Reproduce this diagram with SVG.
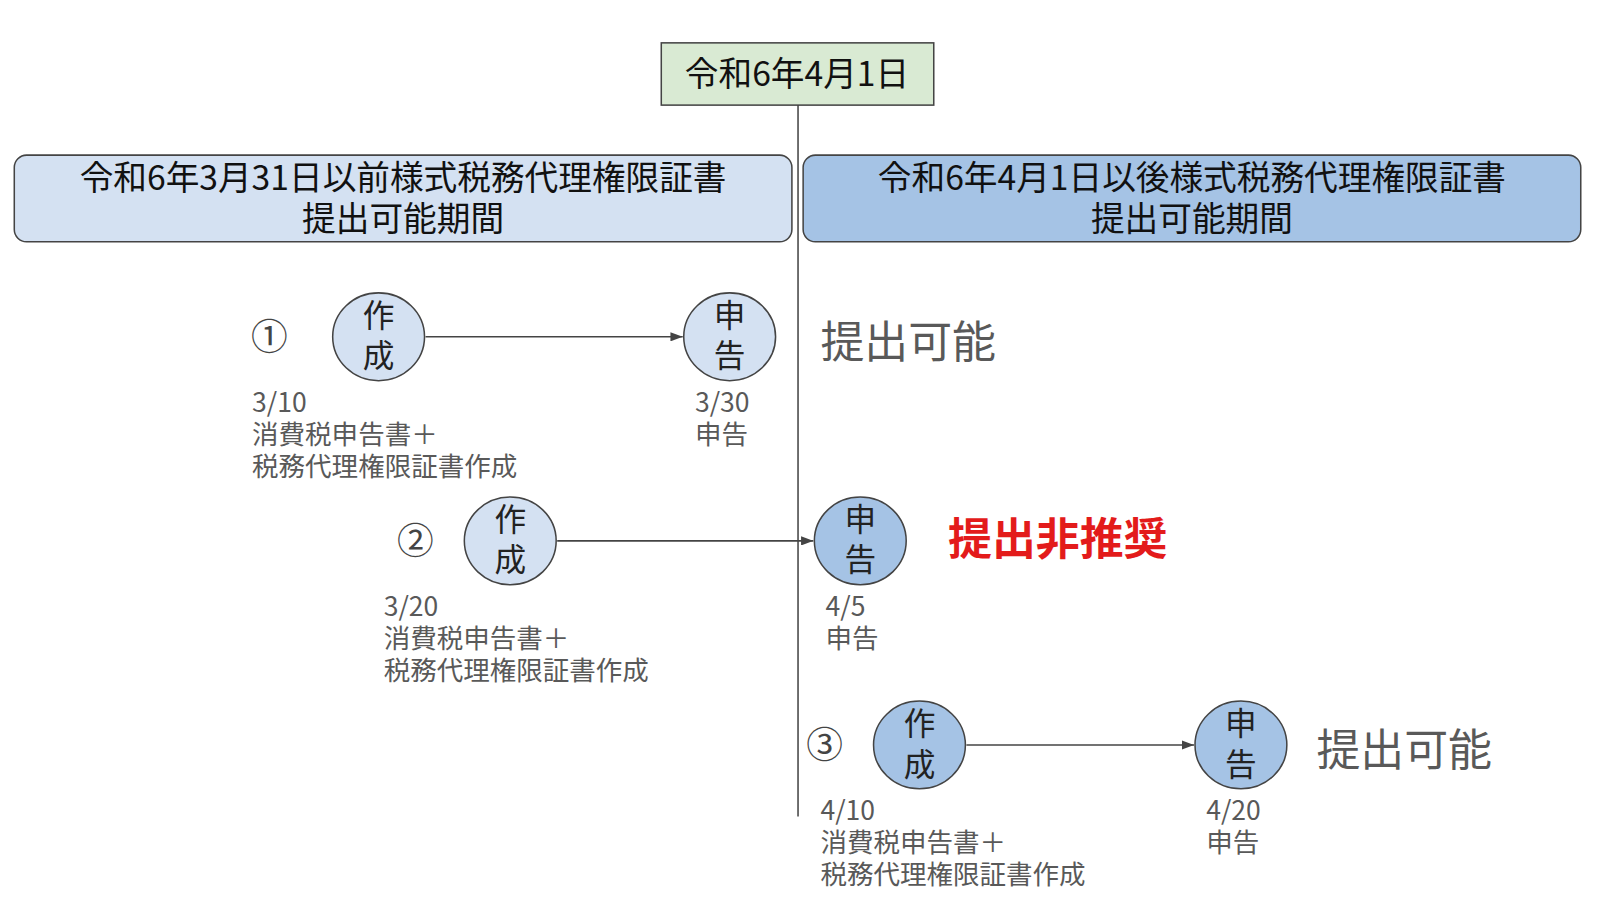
<svg xmlns="http://www.w3.org/2000/svg" width="1600" height="918" viewBox="0 0 1600 918">
<style>
text{font-family:"Noto Sans CJK JP","Noto Sans",sans-serif}
.c1{fill:#d4e1f2;stroke:#444;stroke-width:1.5}
.c2{fill:#a5c3e5;stroke:#444;stroke-width:1.5}
.ct{font-size:31px;fill:#222;text-anchor:middle}
.lb{font-size:26px;fill:#595959}
.big{font-size:43px;fill:#595959}
.num{font-size:36px;fill:#444;text-anchor:middle}
.hd{font-size:33px;fill:#111;text-anchor:middle}
</style>
<defs><marker id="ar" markerWidth="12" markerHeight="9" refX="12" refY="4.5" orient="auto" markerUnits="userSpaceOnUse"><path d="M0,0L12,4.5L0,9z" fill="#444"/></marker></defs>
<rect width="1600" height="918" fill="#fff"/>
<g transform="scale(1.0205)">
<g id="date"><rect x="648" y="42" width="267" height="61" fill="#d9ead3" stroke="#444" stroke-width="1.5"/><text x="781" y="84" class="hd">令和6年4月1日</text></g>
<g id="left-header"><rect x="14" y="152" width="762" height="85" rx="12" fill="#d4e1f2" stroke="#444" stroke-width="1.5"/><text x="395" y="186" class="hd">令和6年3月31日以前様式税務代理権限証書</text><text x="395" y="226" class="hd">提出可能期間</text></g>
<g id="right-header"><rect x="787" y="152" width="762" height="85" rx="12" fill="#a5c3e5" stroke="#444" stroke-width="1.5"/><text x="1168" y="186" class="hd">令和6年4月1日以後様式税務代理権限証書</text><text x="1168" y="226" class="hd">提出可能期間</text></g>
<g id="connectors" stroke="#444" stroke-width="1.5" fill="none">
<line x1="782" y1="103" x2="782" y2="800"/>
<line x1="417" y1="330" x2="669" y2="330" marker-end="url(#ar)"/>
<line x1="546" y1="530" x2="797" y2="530" marker-end="url(#ar)"/>
<line x1="947" y1="730" x2="1170" y2="730" marker-end="url(#ar)"/>
</g>
<g id="n1a"><ellipse cx="371" cy="330" rx="45" ry="43" class="c1"/><text x="371" y="320" class="ct">作</text><text x="371" y="360" class="ct">成</text></g>
<g id="n1b"><ellipse cx="715" cy="330" rx="45" ry="43" class="c1"/><text x="715" y="320" class="ct">申</text><text x="715" y="360" class="ct">告</text></g>
<g id="n2a"><ellipse cx="500" cy="530" rx="45" ry="43" class="c1"/><text x="500" y="520" class="ct">作</text><text x="500" y="560" class="ct">成</text></g>
<g id="n2b"><ellipse cx="843" cy="530" rx="45" ry="43" class="c2"/><text x="843" y="520" class="ct">申</text><text x="843" y="560" class="ct">告</text></g>
<g id="n3a"><ellipse cx="901" cy="730" rx="45" ry="43" class="c2"/><text x="901" y="720" class="ct">作</text><text x="901" y="760" class="ct">成</text></g>
<g id="n3b"><ellipse cx="1216" cy="730" rx="45" ry="43" class="c2"/><text x="1216" y="720" class="ct">申</text><text x="1216" y="760" class="ct">告</text></g>
<g id="labels">
<text x="264" y="343" class="num">①</text><text x="407" y="543" class="num">②</text><text x="808" y="743" class="num">③</text>
<text class="lb"><tspan x="247" y="404">3/10</tspan><tspan x="247" y="435">消費税申告書＋</tspan><tspan x="247" y="466">税務代理権限証書作成</tspan></text>
<text class="lb"><tspan x="681" y="404">3/30</tspan><tspan x="681" y="435">申告</tspan></text>
<text class="lb"><tspan x="376" y="604">3/20</tspan><tspan x="376" y="635">消費税申告書＋</tspan><tspan x="376" y="666">税務代理権限証書作成</tspan></text>
<text class="lb"><tspan x="809" y="604">4/5</tspan><tspan x="809" y="635">申告</tspan></text>
<text class="lb"><tspan x="804" y="804">4/10</tspan><tspan x="804" y="835">消費税申告書＋</tspan><tspan x="804" y="866">税務代理権限証書作成</tspan></text>
<text class="lb"><tspan x="1182" y="804">4/20</tspan><tspan x="1182" y="835">申告</tspan></text>
<text x="804" y="351" class="big">提出可能</text>
<text x="1290" y="751" class="big">提出可能</text>
<text x="929" y="544" font-size="43" font-weight="bold" fill="#e31b1b">提出非推奨</text>
</g>
</g>
</svg>
